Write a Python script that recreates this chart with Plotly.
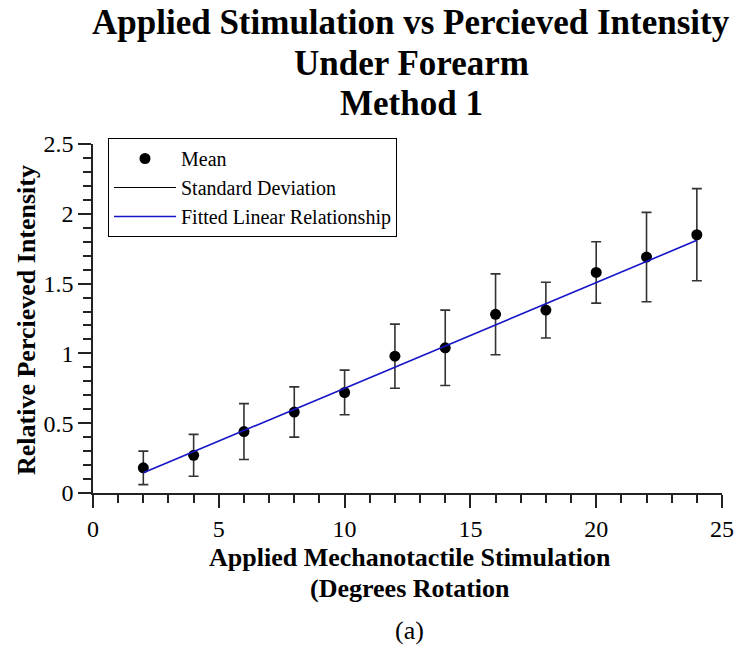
import plotly.graph_objects as go

# ---- data ----
stim_deg = [2, 4, 6, 8, 10, 12, 14, 16, 18, 20, 22, 24]
mean_intensity = [0.18, 0.27, 0.44, 0.58, 0.72, 0.98, 1.04, 1.28, 1.31, 1.58, 1.69, 1.85]
std_dev = [0.12, 0.15, 0.20, 0.18, 0.16, 0.23, 0.27, 0.29, 0.20, 0.22, 0.32, 0.33]
fit_x = [2, 24]
fit_y = [0.145, 1.81]

title_lines = ["Applied Stimulation vs Percieved Intensity", "Under Forearm", "Method 1"]
xtitle_lines = ["Applied Mechanotactile Stimulation", "(Degrees Rotation"]
ytitle = "Relative Percieved Intensity"
caption = "(a)"
xtick_vals = [0, 5, 10, 15, 20, 25]
ytick_vals = [0, 0.5, 1, 1.5, 2, 2.5]
ytick_text = ["0", "0.5", "1", "1.5", "2", "2.5"]

FONT = "Liberation Serif, Times New Roman, serif"

# plot area in pixels
W, H = 736, 646
L, R, T, B = 93, 14, 144, 153
plot_h = H - T - B
plot_w = W - L - R


def py(pix):
    return (H - B - pix) / plot_h


def px(pix):
    return (pix - L) / plot_w


fig = go.Figure()

fig.add_trace(go.Scatter(
    x=stim_deg, y=mean_intensity, mode="markers", name="Mean",
    marker=dict(color="black", size=11),
    error_y=dict(type="data", array=std_dev, visible=True,
                 color="#333333", thickness=1.6, width=5),
))
fig.add_trace(go.Scatter(
    x=[None], y=[None], mode="lines", name="Standard Deviation",
    line=dict(color="black", width=1.2),
))
fig.add_trace(go.Scatter(
    x=fit_x, y=fit_y, mode="lines", name="Fitted Linear Relationship",
    line=dict(color="#1414c8", width=1.6),
))

annotations = []
for txt, ypix in zip(title_lines, [22, 63, 103]):
    annotations.append(dict(text="<b>%s</b>" % txt, x=px(411), y=py(ypix),
                            xref="paper", yref="paper", xanchor="center", yanchor="middle",
                            showarrow=False, font=dict(family=FONT, size=35, color="black")))
for txt, ypix in zip(xtitle_lines, [557, 588]):
    annotations.append(dict(text="<b>%s</b>" % txt, x=px(410), y=py(ypix),
                            xref="paper", yref="paper", xanchor="center", yanchor="middle",
                            showarrow=False, font=dict(family=FONT, size=26, color="black")))
annotations.append(dict(text="<b>%s</b>" % ytitle, x=px(26), y=py(320), textangle=-90,
                        xref="paper", yref="paper", xanchor="center", yanchor="middle",
                        showarrow=False, font=dict(family=FONT, size=26, color="black")))
annotations.append(dict(text=caption, x=px(410), y=py(630),
                        xref="paper", yref="paper", xanchor="center", yanchor="middle",
                        showarrow=False, font=dict(family=FONT, size=26, color="black")))

axis_common = dict(
    showgrid=False, zeroline=False, showline=True, linecolor="#222222", linewidth=1.5,
    ticks="outside", ticklen=13, tickwidth=1.5, tickcolor="#222222",
    tickfont=dict(family=FONT, size=24, color="black"), automargin=False,
)

fig.update_layout(
    width=W, height=H,
    margin=dict(l=L, r=R, t=T, b=B, autoexpand=False),
    paper_bgcolor="white", plot_bgcolor="white",
    showlegend=True,
    legend=dict(x=px(108), y=py(138), xanchor="left", yanchor="top",
                bordercolor="black", borderwidth=1, bgcolor="white",
                font=dict(family=FONT, size=20, color="black"),
                itemwidth=62, tracegroupgap=0),
    annotations=annotations,
    xaxis=dict(range=[0, 25], tickvals=xtick_vals,
               minor=dict(dtick=1, ticks="outside", ticklen=8, tickwidth=1.5, tickcolor="#222222"),
               **axis_common),
    yaxis=dict(range=[0, 2.5], tickvals=ytick_vals, ticktext=ytick_text,
               minor=dict(dtick=0.1, ticks="outside", ticklen=8, tickwidth=1.5, tickcolor="#222222"),
               **axis_common),
)

fig.write_html("out.html")
